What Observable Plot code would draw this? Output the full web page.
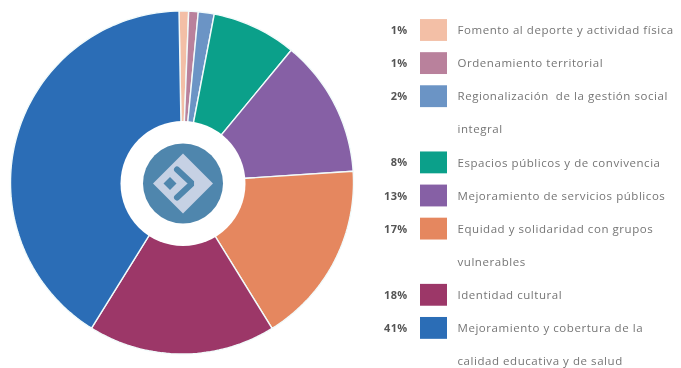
<!DOCTYPE html>
<html><head><meta charset="utf-8">
<script src="https://cdn.jsdelivr.net/npm/d3@7"></script>
<script src="https://cdn.jsdelivr.net/npm/@observablehq/plot@0.6"></script>
<style>
html,body{margin:0;padding:0;background:#fff}
#c{position:relative;width:681px;height:368px;overflow:hidden;filter:blur(0.6px)}
#c svg{position:absolute;left:0;top:0;background:transparent}
.lab{letter-spacing:0.55px}
.pct{letter-spacing:0.3px}
</style></head><body><div id="c"></div>
<script>
const categories = ["Fomento al deporte y actividad física","Ordenamiento territorial","Regionalización  de la gestión social integral","Espacios públicos y de convivencia","Mejoramiento de servicios públicos","Equidad y solidaridad con grupos vulnerables","Identidad cultural","Mejoramiento y cobertura de la calidad educativa y de salud"];
const percentLabels = ["1%","1%","2%","8%","13%","17%","18%","41%"];
const shares = [0.9,0.9,1.5,8,13,17.3,17.7,41];
const colors = ["#f3bfa6","#b9819c","#6b94c5","#0ba08a","#8660a5","#e5875f","#9c3768","#2b6db6"];
const legendLines = [
  ["Fomento al deporte y actividad física"],
  ["Ordenamiento territorial"],
  ["Regionalización  de la gestión social","integral"],
  ["Espacios públicos y de convivencia"],
  ["Mejoramiento de servicios públicos"],
  ["Equidad y solidaridad con grupos","vulnerables"],
  ["Identidad cultural"],
  ["Mejoramiento y cobertura de la","calidad educativa y de salud"]
];
const startDeg = -1;
const total = d3.sum(shares);
let cum = 0;
const slicePts = [];
shares.forEach((s,i)=>{
  const a0 = startDeg + cum/total*360; cum += s;
  const a1 = startDeg + cum/total*360;
  slicePts.push({i,x:0,y:0});
  const n = Math.max(2,Math.ceil((a1-a0)/1.5));
  for(let k=0;k<=n;k++){const a=(a0+(a1-a0)*k/n)*Math.PI/180;slicePts.push({i,x:Math.sin(a),y:Math.cos(a)});}
});
const R = 171.5; const u = p => p/R;
const lc = [1,-1];
const lp = (pts,id)=>pts.map(([x,y])=>({id,x:u(x+lc[0]),y:u(-y+lc[1])}));
const outer = lp([[0,-30],[30,0],[0,30],[-30,0]],"o");
const hole = lp([[-13,-6.5],[-6.5,0],[-13,6.5],[-19.5,0]],"h");
const chev = lp([[-6,-14],[9,0],[-6,14]],"c");

const pie = Plot.plot({
  width:681,height:368,margin:0,
  x:{axis:null,domain:[-1,1],range:[10,353]},
  y:{axis:null,domain:[-1,1],range:[353.5,10.5]},
  color:{type:"identity"},
  marks:[
    Plot.line(slicePts,{x:"x",y:"y",z:"i",fill:d=>colors[d.i],stroke:"#f2fbfb",strokeWidth:1.4,curve:"linear-closed",strokeLinejoin:"round"}),
    Plot.dot([{x:u(lc[0]),y:u(lc[1])}],{x:"x",y:"y",r:62.5,fill:"#fff",stroke:"none"}),
    Plot.dot([{x:u(lc[0]),y:u(lc[1])}],{x:"x",y:"y",r:40,fill:"#4f86ad",stroke:"none"}),
    Plot.line(outer,{x:"x",y:"y",fill:"#c6d1e4",stroke:"none",curve:"linear-closed"}),
    Plot.line(hole,{x:"x",y:"y",fill:"#4f86ad",stroke:"none",curve:"linear-closed"}),
    Plot.line(chev,{x:"x",y:"y",stroke:"#4f86ad",strokeWidth:6,strokeLinejoin:"miter"})
  ]
});

const rows=[];const swatches=[];let row=0;
legendLines.forEach((ls,i)=>{
  swatches.push({row,i,label:percentLabels[i]});
  ls.forEach(t=>{rows.push({row,t});row++;});
});
const font="'Open Sans',sans-serif";
const legend = Plot.plot({
  width:681,height:368,margin:0,
  x:{axis:null,domain:[0,681],range:[0,681]},
  y:{axis:null,domain:[0,10],range:[30,361]},
  color:{type:"identity"},
  marks:[
    Plot.rect(swatches,{x1:420,x2:447,y1:d=>d.row-0.33,y2:d=>d.row+0.33,fill:d=>colors[d.i]}),
    Plot.text(swatches,{x:407,y:"row",text:"label",textAnchor:"end",fontSize:11,fontWeight:700,fill:"#555",fontFamily:font,className:"pct"}),
    Plot.text(rows,{x:457,y:"row",text:"t",textAnchor:"start",fontSize:11.5,fill:"#757575",fontFamily:font,className:"lab"})
  ]
});
document.getElementById("c").append(pie,legend);
</script></body></html>
